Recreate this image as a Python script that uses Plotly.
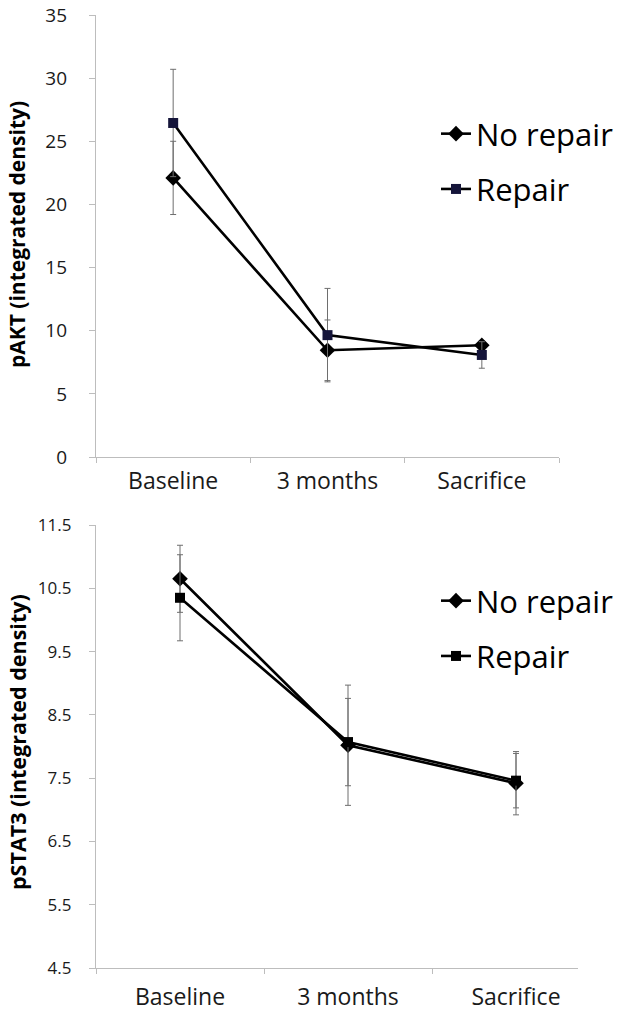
import plotly.graph_objects as go

categories = ["Baseline", "3 months", "Sacrifice"]

pakt_no_repair = [22.1, 8.45, 8.85]
pakt_no_repair_err = [2.9, 2.4, 0.35]
pakt_repair = [26.45, 9.65, 8.08]
pakt_repair_err = [4.25, 3.7, 1.05]

pstat3_no_repair = [10.65, 8.02, 7.42]
pstat3_no_repair_err = [0.53, 0.95, 0.50]
pstat3_repair = [10.35, 8.07, 7.46]
pstat3_repair_err = [0.68, 0.69, 0.43]

W, H = 624, 1016


def px(x):
    return x / W


def py(y):
    return 1 - y / H


FONT = "Open Sans"
ERR_COLOR = "#6e6e6e"
AXIS_COLOR = "#bdbdbd"

fig = go.Figure()


def add_series(y, err, name, symbol, color, xa, ya, legend, group):
    fig.add_trace(go.Scatter(
        x=categories, y=y, name=name, mode="lines+markers",
        line=dict(color="#000000", width=2.6),
        marker=dict(symbol=symbol, size=12 if symbol == "diamond" else 10,
                    color=color, line=dict(width=0)),
        error_y=dict(type="data", array=err, visible=True,
                     color=ERR_COLOR, thickness=1, width=3),
        xaxis=xa, yaxis=ya, legend=legend, legendgroup=group,
    ))


add_series(pakt_no_repair, pakt_no_repair_err, "No repair", "diamond", "#000000", "x", "y", "legend", "a1")
add_series(pakt_repair, pakt_repair_err, "Repair", "square", "#15153a", "x", "y", "legend", "a2")
add_series(pstat3_no_repair, pstat3_no_repair_err, "No repair", "diamond", "#000000", "x2", "y2", "legend2", "b1")
add_series(pstat3_repair, pstat3_repair_err, "Repair", "square", "#000000", "x2", "y2", "legend2", "b2")

xcommon = dict(type="category", showline=True, linecolor=AXIS_COLOR, linewidth=1.3,
               ticks="outside", ticklen=5, tickcolor=AXIS_COLOR, tickson="boundaries",
               showgrid=False, zeroline=False, automargin=False,
               tickfont=dict(family=FONT, size=23, color="#1a1a1a"))
ycommon = dict(showline=True, linecolor=AXIS_COLOR, linewidth=1.3,
               ticks="outside", ticklen=6, tickcolor=AXIS_COLOR,
               showgrid=False, zeroline=False, automargin=False,
               ticklabeloverflow="allow")

legend_common = dict(font=dict(family=FONT, size=31, color="#000000"),
                     bgcolor="rgba(0,0,0,0)", tracegroupgap=12,
                     itemwidth=30, xanchor="left", yanchor="top")

fig.update_layout(
    width=W, height=H,
    margin=dict(l=0, r=0, t=0, b=0, autoexpand=False),
    paper_bgcolor="white", plot_bgcolor="white",
    showlegend=True,
    xaxis=dict(domain=[px(96), px(559)], range=[-0.5, 2.5], anchor="y",
               ticklabelstandoff=3, **xcommon),
    yaxis=dict(domain=[py(457), py(15)], range=[0, 35], dtick=5, anchor="x",
               ticklabelstandoff=18,
               tickfont=dict(family=FONT, size=19, color="#1a1a1a"), **ycommon),
    xaxis2=dict(domain=[px(96), px(578)], range=[-0.5, 2.369], anchor="y2",
                ticklabelstandoff=8, **xcommon),
    yaxis2=dict(domain=[py(968), py(525)], range=[4.5, 11.5], dtick=1, tick0=4.5,
                tickformat=".1f", anchor="x2", ticklabelstandoff=14,
                tickfont=dict(family=FONT, size=17, color="#1a1a1a"), **ycommon),
    legend=dict(x=px(436), y=py(107), **legend_common),
    legend2=dict(x=px(436), y=py(574), **legend_common),
    annotations=[
        dict(text="<b>pAKT (integrated density)</b>", x=px(17), y=py(235),
             xref="paper", yref="paper", textangle=-90, showarrow=False,
             xanchor="center", yanchor="middle",
             font=dict(family=FONT, size=21, color="#000000")),
        dict(text="<b>pSTAT3 (integrated density)</b>", x=px(17), y=py(742),
             xref="paper", yref="paper", textangle=-90, showarrow=False,
             xanchor="center", yanchor="middle",
             font=dict(family=FONT, size=21.5, color="#000000")),
    ],
)

fig.write_html("out.html", config={"displayModeBar": False},
               post_script="document.body.style.margin='0px';")
